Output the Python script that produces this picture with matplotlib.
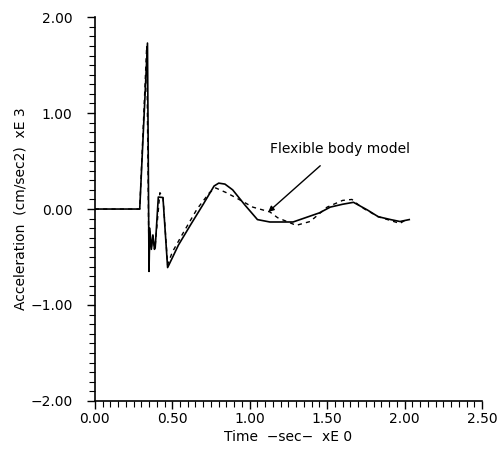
import numpy as np
import matplotlib.pyplot as plt
from matplotlib.ticker import MultipleLocator, FuncFormatter

# solid curve
t_solid = [0.00, 0.29, 0.34, 0.35, 0.355, 0.365, 0.375, 0.385, 0.39, 0.41, 0.44,
           0.47, 0.50, 0.54, 0.62, 0.70, 0.77, 0.80, 0.84, 0.89, 0.97, 1.05, 1.13,
           1.28, 1.45, 1.52, 1.60, 1.67, 1.76, 1.83, 1.91, 1.97, 2.03]
a_solid = [0.00, 0.00, 1.73, -0.65, -0.20, -0.42, -0.27, -0.42, -0.40, 0.125, 0.12,
           -0.61, -0.51, -0.375, -0.16, 0.05, 0.24, 0.27, 0.26, 0.20, 0.04, -0.11, -0.135,
           -0.135, -0.04, 0.02, 0.05, 0.07, -0.01, -0.08, -0.11, -0.13, -0.11]

# dashed curve: flexible body model
t_flex = [0.00, 0.29, 0.335, 0.35, 0.355, 0.365, 0.375, 0.385, 0.39, 0.42, 0.44,
          0.47, 0.50, 0.57, 0.66, 0.74, 0.78, 0.85, 0.92, 1.02, 1.13, 1.18,
          1.30, 1.39, 1.50, 1.60, 1.66, 1.72, 1.83, 1.91, 1.97, 2.02]
a_flex = [0.00, 0.00, 1.70, -0.60, -0.22, -0.40, -0.28, -0.40, -0.38, 0.17, 0.13,
          -0.58, -0.45, -0.25, 0.00, 0.17, 0.22, 0.17, 0.11, 0.02, -0.03, -0.09,
          -0.17, -0.13, 0.02, 0.09, 0.10, 0.02, -0.08, -0.12, -0.15, -0.10]

fig = plt.figure(figsize=(4.99, 4.51), dpi=100)
ax = fig.add_axes([0.190, 0.111, 0.776, 0.851])

ax.plot(t_solid, a_solid, color='black', lw=1.2)
ax.plot(t_flex, a_flex, color='black', lw=1.0, ls=(0, (3, 3)))

ax.annotate('Flexible body model', xy=(1.12, -0.03), xytext=(1.58, 0.63),
            ha='center', va='center', fontsize=10,
            arrowprops=dict(arrowstyle='-|>', color='black', lw=1.0,
                            shrinkA=8, shrinkB=0, mutation_scale=8))

ax.set_xlim(0, 2.5)
ax.set_ylim(-2, 2)
ax.xaxis.set_major_locator(MultipleLocator(0.5))
ax.xaxis.set_minor_locator(MultipleLocator(0.05))
ax.yaxis.set_major_locator(MultipleLocator(1.0))
ax.yaxis.set_minor_locator(MultipleLocator(0.1))
fmt = FuncFormatter(lambda v, p: ('%.2f' % v).replace('-', '\u2212'))
ax.xaxis.set_major_formatter(fmt)
ax.yaxis.set_major_formatter(fmt)

for s in ['top', 'right']:
    ax.spines[s].set_visible(False)
for s in ['left', 'bottom']:
    ax.spines[s].set_linewidth(1.2)

ax.tick_params(which='major', direction='out', length=6, width=1.0, labelsize=10, pad=2)
ax.tick_params(which='minor', direction='out', length=4, width=0.8)
ax.tick_params(axis='y', which='major', pad=10)

ax.set_xlabel('Time  \u2212sec\u2212  xE 0', fontsize=10, labelpad=3)
ax.set_ylabel('Acceleration  (cm/sec2)  xE 3', fontsize=10, labelpad=2)

fig.savefig('out.png', dpi=100)
